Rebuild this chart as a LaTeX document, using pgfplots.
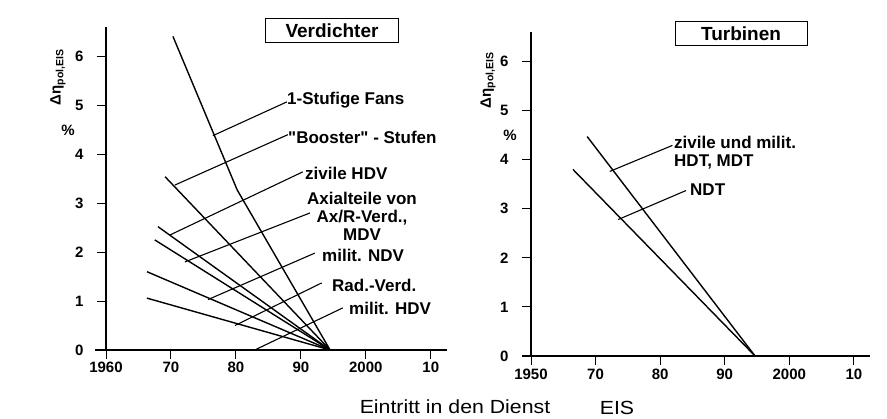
\documentclass[border=0pt]{standalone}
\usepackage{pgfplots}
\pgfplotsset{compat=1.18}
\usepackage{fontspec}
\setmainfont{Liberation Sans}[Ligatures=TeXOff]
\newfontfamily\widefont{Liberation Sans}[FakeStretch=1.12]

\pgfplotsset{
  eisaxis/.style={
    scale only axis, anchor=south west,
    xmin=1960, xmax=2012.5, ymin=0, ymax=6.6,
    axis x line=bottom, axis y line=left,
    axis line style={line width=1.2pt, -},
    tick align=outside, major tick length=9pt,
    tick style={line width=1pt, black},
    xtick={1960,1970,...,2010},
    ytick={0,1,...,6},
    tick label style={font=\fontsize{15}{15}\selectfont\bfseries},
    yticklabel style={xshift=-10pt},
    /pgf/number format/assume math mode=true,
    clip=false,
  }
}
\tikzset{
  lbl/.style={font=\fontsize{17}{18}\selectfont\bfseries, inner sep=0pt, anchor=west},
  ttl/.style={draw, line width=1pt, font=\fontsize{19}{19}\selectfont\bfseries,
              inner sep=0pt, minimum height=24pt},
  ylab/.style={font=\fontsize{15}{15}\selectfont\bfseries, inner sep=0pt, rotate=90},
  trend/.style={black, line width=1.4pt, mark=none},
  lead/.style={black, line width=1.1pt, mark=none},
}

\begin{document}
\begin{tikzpicture}[x=1pt,y=1pt]
\path (0,0) rectangle (887,419);

% ---------------- Verdichter ----------------
\begin{axis}[eisaxis, at={(106pt,69pt)}, width=341pt, height=323pt,
  xticklabels={1960,70,80,90,2000,10}]
  % trend lines, all meeting in 1994.5
  \addplot[trend] coordinates {(1970.3,6.41) (1980.2,3.27) (1994.5,0)};
  \addplot[trend] coordinates {(1969.1,3.54) (1994.5,0)};
  \addplot[trend] coordinates {(1968.0,2.52) (1994.5,0)};
  \addplot[trend] coordinates {(1967.5,2.25) (1994.5,0)};
  \addplot[trend] coordinates {(1966.3,1.60) (1994.5,0)};
  \addplot[trend] coordinates {(1966.3,1.06) (1994.5,0)};
  % leader lines to the labels
  \addplot[lead] coordinates {(1976.46,4.38) (1987.85,5.07)};
  \addplot[lead] coordinates {(1970.6,3.37) (1988.0,4.40)};
  \addplot[lead] coordinates {(1969.85,2.35) (1990.3,3.64)};
  \addplot[lead] coordinates {(1972.15,1.80) (1991.4,2.80)};
  \addplot[lead] coordinates {(1975.7,1.03) (1992.15,1.98)};
  \addplot[lead] coordinates {(1979.85,0.50) (1993.2,1.37)};
  \addplot[lead] coordinates {(1982.9,0) (1996.45,0.86)};
  \draw[line width=1.2pt] (axis cs:1958.3,0) -- (axis cs:1960,0);
\end{axis}

% ---------------- Turbinen ----------------
\begin{axis}[eisaxis, at={(531pt,63pt)}, width=339pt, height=324pt,
  xticklabels={1950,70,80,90,2000,10}]
  \addplot[trend] coordinates {(1968.7,4.47) (1994.7,0)};
  \addplot[trend] coordinates {(1966.5,3.80) (1994.7,0)};
  \addplot[lead] coordinates {(1972.2,3.76) (1981.9,4.29)};
  \addplot[lead] coordinates {(1973.5,2.78) (1984.0,3.37)};
  \draw[line width=1.2pt] (axis cs:1958.6,0) -- (axis cs:1960,0);
\end{axis}

% titles
\node[ttl, minimum width=133pt] at (332,388) {Verdichter};
\node[ttl, minimum width=132pt] at (741,385) {Turbinen};

% y axis labels
\node[ylab] at (58,342) {Δη\textsubscript{pol,EIS}};
\node[font=\fontsize{15}{15}\selectfont\bfseries] at (68,289) {\%};
\node[ylab] at (488,339) {Δη\textsubscript{pol,EIS}};
\node[font=\fontsize{15}{15}\selectfont\bfseries] at (510,284) {\%};

% series labels, compressors
\node[lbl] at (287,319) {1-Stufige Fans};
\node[lbl] at (288,282) {"Booster" - Stufen};
\node[lbl] at (305,246) {zivile HDV};
\node[lbl, anchor=center, align=center] at (362,203)
  {Axialteile von\\Ax/R-Verd.,\\MDV};
\node[lbl] at (322,164) {milit. NDV};
\node[lbl] at (332,134) {Rad.-Verd.};
\node[lbl] at (349,111) {milit. HDV};

% series labels, turbines
\node[lbl, align=left, anchor=north west] at (674,283) {zivile und milit.\\HDT, MDT};
\node[lbl] at (690,229) {NDT};

% x axis label
\node[font=\widefont\fontsize{19}{19}\selectfont, inner sep=0pt] at (455,12) {Eintritt in den Dienst};
\node[font=\widefont\fontsize{19}{19}\selectfont, inner sep=0pt] at (617,11) {EIS};
\end{tikzpicture}
\end{document}
